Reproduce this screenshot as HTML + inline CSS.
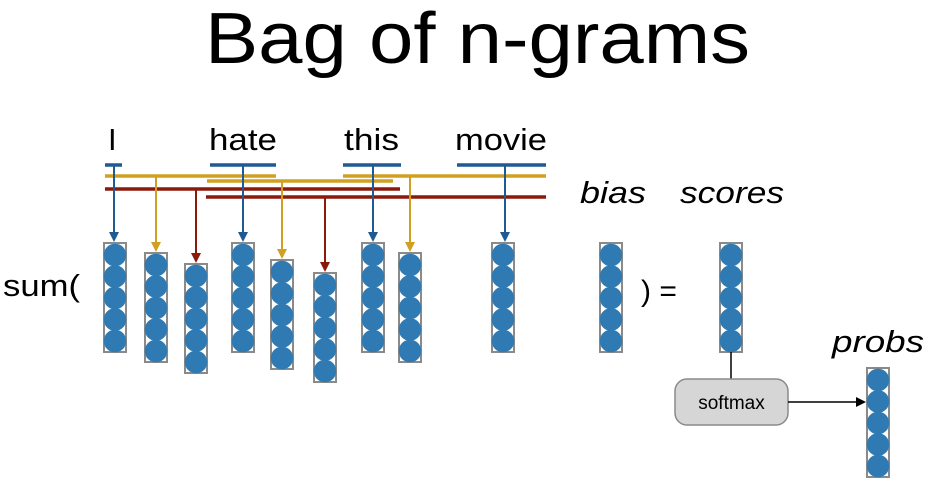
<!DOCTYPE html>
<html><head><meta charset="utf-8"><style>
html,body{margin:0;padding:0;background:#fff;}
svg{display:block;}
text{font-family:"Liberation Sans",sans-serif;}
</style></head><body>
<svg width="940" height="484" viewBox="0 0 940 484" xmlns="http://www.w3.org/2000/svg">
<defs>
<g id="col">
 <rect x="0" y="0" width="22" height="109" fill="#fff" stroke="#8a8a8a" stroke-width="2"/>
 <circle cx="11" cy="12" r="11.3" fill="#2f7ab2"/>
 <circle cx="11" cy="33.5" r="11.3" fill="#2f7ab2"/>
 <circle cx="11" cy="55" r="11.3" fill="#2f7ab2"/>
 <circle cx="11" cy="76.5" r="11.3" fill="#2f7ab2"/>
 <circle cx="11" cy="98" r="11.3" fill="#2f7ab2"/>
</g>
</defs>

<text x="205" y="63" font-size="72" textLength="545" lengthAdjust="spacingAndGlyphs">Bag of n-grams</text>

<text x="108" y="150" font-size="31">I</text>
<text x="209" y="150" font-size="31" textLength="68" lengthAdjust="spacingAndGlyphs">hate</text>
<text x="344" y="150" font-size="31" textLength="55" lengthAdjust="spacingAndGlyphs">this</text>
<text x="455" y="150" font-size="31" textLength="92" lengthAdjust="spacingAndGlyphs">movie</text>

<g stroke-width="3.5" fill="none">
 <line x1="105" y1="165" x2="122" y2="165" stroke="#1f5a92"/>
 <line x1="210" y1="165" x2="276" y2="165" stroke="#1f5a92"/>
 <line x1="343" y1="165" x2="401" y2="165" stroke="#1f5a92"/>
 <line x1="457" y1="165" x2="546" y2="165" stroke="#1f5a92"/>
 <line x1="105" y1="176" x2="276" y2="176" stroke="#d2a020"/>
 <line x1="343" y1="176" x2="546" y2="176" stroke="#d2a020"/>
 <line x1="207" y1="181" x2="393" y2="181" stroke="#d2a020"/>
 <line x1="105" y1="189" x2="400" y2="189" stroke="#8b1a0a"/>
 <line x1="206" y1="197" x2="546" y2="197" stroke="#8b1a0a"/>
</g>

<g stroke-width="2">
 <line x1="114" y1="165" x2="114" y2="233" stroke="#1f5a92"/><path d="M109,232 L119,232 L114,242 z" fill="#1f5a92"/>
 <line x1="243" y1="165" x2="243" y2="233" stroke="#1f5a92"/><path d="M238,232 L248,232 L243,242 z" fill="#1f5a92"/>
 <line x1="373" y1="165" x2="373" y2="233" stroke="#1f5a92"/><path d="M368,232 L378,232 L373,242 z" fill="#1f5a92"/>
 <line x1="505" y1="165" x2="505" y2="233" stroke="#1f5a92"/><path d="M500,232 L510,232 L505,242 z" fill="#1f5a92"/>
 <line x1="156" y1="176" x2="156" y2="243" stroke="#d2a020"/><path d="M151,242 L161,242 L156,252 z" fill="#d2a020"/>
 <line x1="282" y1="181" x2="282" y2="250" stroke="#d2a020"/><path d="M277,249 L287,249 L282,259 z" fill="#d2a020"/>
 <line x1="410" y1="176" x2="410" y2="243" stroke="#d2a020"/><path d="M405,242 L415,242 L410,252 z" fill="#d2a020"/>
 <line x1="196" y1="189" x2="196" y2="254" stroke="#8b1a0a"/><path d="M191,253 L201,253 L196,263 z" fill="#8b1a0a"/>
 <line x1="325" y1="197" x2="325" y2="263" stroke="#8b1a0a"/><path d="M320,262 L330,262 L325,272 z" fill="#8b1a0a"/>
</g>

<use href="#col" x="104" y="243"/>
<use href="#col" x="145" y="253"/>
<use href="#col" x="185" y="264"/>
<use href="#col" x="232" y="243"/>
<use href="#col" x="271" y="260"/>
<use href="#col" x="314" y="273"/>
<use href="#col" x="362" y="243"/>
<use href="#col" x="399" y="253"/>
<use href="#col" x="492" y="243"/>
<use href="#col" x="600" y="243"/>
<use href="#col" x="720" y="243"/>
<use href="#col" x="867" y="368"/>

<text x="3" y="296" font-size="31" textLength="77" lengthAdjust="spacingAndGlyphs">sum(</text>
<text x="641" y="301" font-size="30">) =</text>
<text x="580" y="203" font-size="31" font-style="italic" textLength="66" lengthAdjust="spacingAndGlyphs">bias</text>
<text x="680" y="203" font-size="31" font-style="italic" textLength="104" lengthAdjust="spacingAndGlyphs">scores</text>
<text x="832" y="352" font-size="31" font-style="italic" textLength="92" lengthAdjust="spacingAndGlyphs">probs</text>

<line x1="731" y1="352" x2="731" y2="379" stroke="#000" stroke-width="1.5"/>
<rect x="675" y="379" width="113" height="46" rx="12" fill="#d6d6d6" stroke="#8a8a8a" stroke-width="1.5"/>
<text x="731.5" y="409" font-size="19" text-anchor="middle">softmax</text>
<line x1="788" y1="402" x2="858" y2="402" stroke="#000" stroke-width="1.5"/>
<path d="M856,397 L866,402 L856,407 z" fill="#000"/>
</svg>
</body></html>
